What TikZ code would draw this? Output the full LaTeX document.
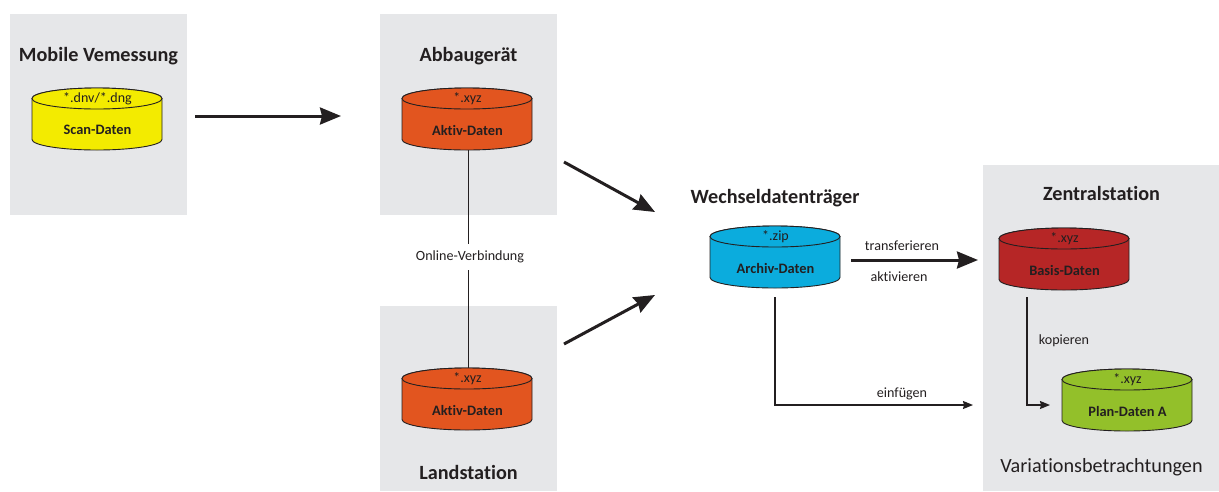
\documentclass[tikz,border=0pt]{standalone}
\usepackage{fontspec}
\setmainfont[Ligatures=NoCommon]{Carlito}
\usetikzlibrary{arrows.meta}
\definecolor{panelgrey}{HTML}{E6E7E9}
\definecolor{inkc}{HTML}{231F20}
\definecolor{scanc}{HTML}{F3EB00}
\definecolor{aktivc}{HTML}{E2551F}
\definecolor{archivc}{HTML}{0BACDD}
\definecolor{basisc}{HTML}{B62626}
\definecolor{planc}{HTML}{93C02A}
\tikzset{
  x=1pt,y=-1pt,
  panel/.style={fill=panelgrey,draw=none,inner sep=0pt,anchor=north west},
  titletext/.style={font=\fontsize{20.2}{23}\selectfont\bfseries,text=inkc,inner sep=0pt},
  vartext/.style={font=\fontsize{20.2}{23}\selectfont,text=inkc,inner sep=0pt},
  cyllabel/.style={font=\fontsize{14.4}{16}\selectfont\bfseries,text=inkc,inner sep=0pt},
  cylext/.style={font=\fontsize{14}{16}\selectfont,text=inkc,inner sep=0pt},
  smalltext/.style={font=\fontsize{14.1}{16}\selectfont,text=inkc,inner sep=0pt},
  cylbody/.style={draw=inkc,line width=0.9pt},
  cylanchor/.style={draw=none,fill=none,minimum width=130pt,minimum height=62pt,inner sep=0pt},
  bigarrow/.style={draw=inkc,line width=3pt,-{Stealth[length=21pt,width=17pt,inset=2pt]}},
  thinarrow/.style={draw=inkc,line width=1.3pt,-{Stealth[length=10pt,width=8pt,inset=1pt]}},
  plainline/.style={draw=inkc,line width=1pt},
}
% name, centre x, top y, colour, extension text, label
\newcommand{\dbcyl}[6]{%
  \path[cylbody,fill=#4]
    (#2-65,#3+10.5) arc[start angle=180,end angle=360,x radius=65,y radius=10.5]
    -- ++(0,41) arc[start angle=0,end angle=180,x radius=65,y radius=10.5] -- cycle;
  \path[cylbody,fill=#4]
    (#2,#3+10.5) ellipse[x radius=65,y radius=10.5];
  \node[cylanchor] (#1) at (#2,#3+31) {};
  \node[cylext] (#1ext) at (#2+.5,#3+10.5) {#5};
  \node[cyllabel] (#1label) at (#2+.5,#3+42) {#6};
}
\begin{document}
\begin{tikzpicture}
\useasboundingbox (0,0) rectangle (1219,491);
\node[panel,minimum width=177pt,minimum height=201pt] (mobilebox) at (10,14) {};
\node[panel,minimum width=177pt,minimum height=201pt] (abbaubox) at (380,14) {};
\node[panel,minimum width=177pt,minimum height=185pt] (landbox) at (380,306) {};
\node[panel,minimum width=236pt,minimum height=326pt] (zentralbox) at (983,165) {};

\node[titletext] (t1) at (98.5,56) {Mobile Vemessung};
\node[titletext] (t2) at (468.5,56) {Abbaugerät};
\node[titletext] (t3) at (468.5,472) {Landstation};
\node[titletext] (t4) at (775,198) {Wechseldatenträger};
\node[titletext] (t5) at (1101.5,193.5) {Zentralstation};
\node[vartext] (t6) at (1101.5,467) {Variationsbetrachtungen};

\dbcyl{scan}{97}{88}{scanc}{*.dnv/*.dng}{Scan-Daten}
\dbcyl{aktivA}{467}{88}{aktivc}{*.xyz}{Aktiv-Daten}
\dbcyl{aktivB}{467}{368}{aktivc}{*.xyz}{Aktiv-Daten}
\dbcyl{archiv}{775}{226}{archivc}{*.zip}{Archiv-Daten}
\dbcyl{basis}{1064}{228}{basisc}{*.xyz}{Basis-Daten}
\dbcyl{plan}{1127}{369}{planc}{*.xyz}{Plan-Daten A}

\node[smalltext,inner xsep=0pt,inner ysep=7pt] (online) at (470,257) {Online-Verbindung};
\draw[plainline] (aktivA.south -| 468.5,0) -- (online.north -| 468.5,0);
\draw[plainline] (online.south -| 468.5,0) -- (aktivB.north -| 468.5,0);

\coordinate (a1s) at (195,116);
\coordinate (a1e) at (341,116);
\coordinate (a2s) at (564,162);
\coordinate (a2e) at (655,212);
\coordinate (a3s) at (564,344);
\coordinate (a3e) at (655,295);
\coordinate (a4s) at (851,260);
\coordinate (a4e) at (978,260);
\coordinate (a5s) at (775,297);
\coordinate (a5e) at (973,405);
\coordinate (a6s) at (1027,297);
\coordinate (a6e) at (1050,405);

\draw[bigarrow] (a1s) -- (a1e);
\draw[bigarrow] (a2s) -- (a2e);
\draw[bigarrow] (a3s) -- (a3e);
\draw[bigarrow] (a4s) -- (a4e);
\draw[thinarrow] (a5s) |- (a5e);
\draw[thinarrow] (a6s) |- (a6e);

\node[smalltext] (l1) at (902,246) {transferieren};
\node[smalltext] (l2) at (899,277) {aktivieren};
\node[smalltext] (l3) at (902,394) {einfügen};
\node[smalltext] (l4) at (1064,341) {kopieren};
\end{tikzpicture}
\end{document}
